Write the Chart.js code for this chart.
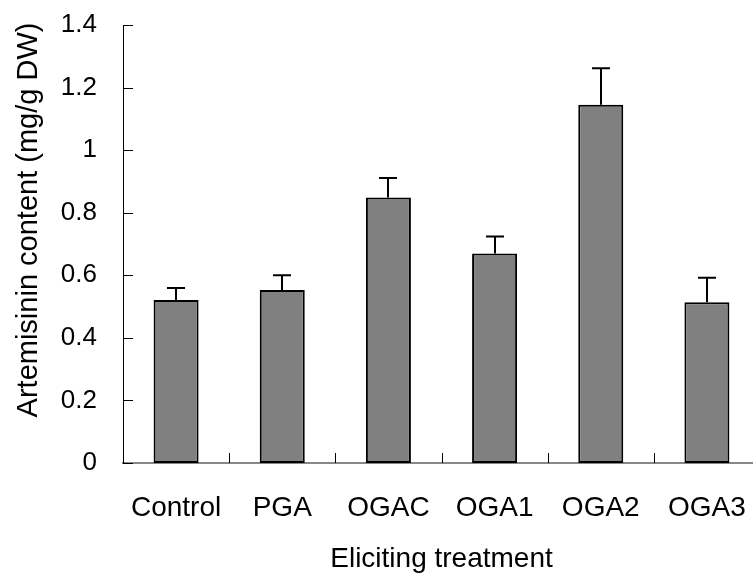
<!DOCTYPE html>
<html>
<head>
<meta charset="utf-8">
<script src="https://cdn.jsdelivr.net/npm/chart.js@4/dist/chart.umd.min.js"></script>
<style>
  html, body { margin: 0; padding: 0; background: #fff; overflow: hidden; }
  #wrap { width: 760px; height: 575px; }
  canvas { display: block; }
</style>
</head>
<body>
<div id="wrap"><canvas id="c" width="760" height="575"></canvas></div>
<script>
const categories = ['Control', 'PGA', 'OGAC', 'OGA1', 'OGA2', 'OGA3'];
const meanValues = [0.521, 0.553, 0.849, 0.670, 1.145, 0.514];
const errorValues = [0.038, 0.047, 0.062, 0.054, 0.117, 0.078];
const yTickLabels = ['0', '0.2', '0.4', '0.6', '0.8', '1', '1.2', '1.4'];
const xTitle = 'Eliciting treatment';
const yTitle = 'Artemisinin content (mg/g DW)';

const FONT = "'Liberation Sans', Arial, Helvetica, sans-serif";

const decorPlugin = {
  id: 'decor',
  afterDatasetsDraw(chart) {
    const ctx = chart.ctx;
    const xs = chart.scales.x, ys = chart.scales.y;
    const area = chart.chartArea;
    ctx.save();
    ctx.strokeStyle = '#000';
    // y inward tick marks
    ctx.lineWidth = 1;
    ys.ticks.forEach(t => {
      const y = Math.round(ys.getPixelForValue(t.value)) + 0.5;
      ctx.beginPath();
      ctx.moveTo(area.left, y);
      ctx.lineTo(area.left + 10, y);
      ctx.stroke();
    });
    // x inward tick marks at category boundaries
    for (let i = 0; i < categories.length - 1; i++) {
      const x = Math.round((xs.getPixelForValue(i) + xs.getPixelForValue(i + 1)) / 2) + 0.5;
      ctx.beginPath();
      ctx.moveTo(x, area.bottom);
      ctx.lineTo(x, area.bottom - 10);
      ctx.stroke();
    }
    // error bars (upper only)
    ctx.lineWidth = 2;
    const meta = chart.getDatasetMeta(0);
    meta.data.forEach((bar, i) => {
      const x = Math.round(bar.x);
      const yTop = ys.getPixelForValue(meanValues[i]);
      const yErr = ys.getPixelForValue(meanValues[i] + errorValues[i]);
      ctx.beginPath();
      ctx.moveTo(x, yTop);
      ctx.lineTo(x, yErr);
      ctx.moveTo(x - 9, yErr);
      ctx.lineTo(x + 9, yErr);
      ctx.stroke();
    });
    // y axis title
    ctx.fillStyle = '#000';
    ctx.font = '29px ' + FONT;
    ctx.textAlign = 'center';
    ctx.textBaseline = 'alphabetic';
    ctx.translate(37, 220);
    ctx.rotate(-Math.PI / 2);
    ctx.fillText(yTitle, 0, 0);
    ctx.restore();
  }
};

new Chart(document.getElementById('c'), {
  type: 'bar',
  data: {
    labels: categories,
    datasets: [{
      data: meanValues,
      backgroundColor: '#808080',
      borderColor: '#000',
      borderWidth: 2,
      borderSkipped: false,
      barPercentage: 0.424,
      categoryPercentage: 1
    }]
  },
  options: {
    responsive: false,
    animation: false,
    devicePixelRatio: 1,
    layout: { padding: { top: 25, left: 0, right: 0, bottom: 0 } },
    plugins: { legend: { display: false }, tooltip: { enabled: false } },
    scales: {
      x: {
        grid: { display: false, drawTicks: false },
        border: { display: true, color: '#888', width: 2 },
        ticks: { color: '#000', font: { family: FONT, size: 28 }, padding: 28, maxRotation: 0, autoSkip: false },
        title: { display: true, text: xTitle, color: '#000', font: { family: FONT, size: 28, lineHeight: 1 }, padding: { top: 0, bottom: 2 } },
        afterFit(s) { s.height = 112; s.paddingLeft = 0; s.paddingRight = 0; }
      },
      y: {
        min: 0, max: 1.4,
        grid: { display: false, drawTicks: false },
        border: { display: true, color: '#000', width: 1 },
        ticks: {
          stepSize: 0.2,
          color: '#000',
          font: { family: FONT, size: 26 },
          padding: 26,
          callback: (v, i) => yTickLabels[i]
        },
        afterFit(s) { s.width = 123; s.paddingTop = 0; s.paddingBottom = 0; }
      }
    }
  },
  plugins: [decorPlugin]
});
</script>
</body>
</html>
